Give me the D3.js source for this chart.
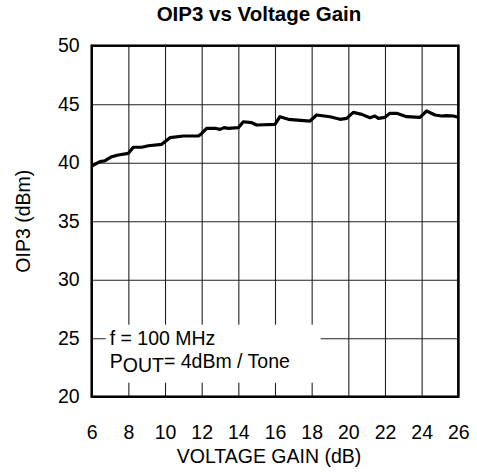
<html>
<head>
    <script src="https://d3js.org/d3.v7.min.js"></script>
    <style>
        body { margin: 0; background: #fff; }
        text { font-family: "Liberation Sans", Arial, sans-serif; }
    </style>
</head>
<body>
    <div id="cont"></div>
    <script>
        // voltage gain (dB) and OIP3 (dBm)
        var gain = [6.0, 6.45, 6.73, 7.09, 7.45, 8.0, 8.27, 8.73, 9.09, 9.82,
            10.27, 11.0, 11.82, 12.0, 12.27, 12.73, 13.0, 13.22, 13.45, 14.0,
            14.27, 14.73, 15.0, 16.0, 16.27, 16.73, 17.91, 18.27, 19.0, 19.55,
            19.91, 20.27, 20.73, 21.18, 21.45, 21.64, 22.0, 22.27, 22.64, 23.18,
            23.91, 24.27, 24.73, 25.09, 25.36, 25.73, 26.0];
        var oip3 = [39.72, 40.09, 40.17, 40.51, 40.66, 40.80, 41.32, 41.32, 41.45, 41.57,
            42.14, 42.28, 42.28, 42.5, 42.94, 42.94, 42.85, 43.0, 42.94, 42.99,
            43.5, 43.42, 43.22, 43.28, 43.93, 43.71, 43.56, 44.08, 43.93, 43.71,
            43.79, 44.3, 44.13, 43.85, 43.99, 43.79, 43.88, 44.22, 44.22, 43.93,
            43.88, 44.42, 44.08, 43.99, 44.02, 43.99, 43.88];
        var xTicks = [6, 8, 10, 12, 14, 16, 18, 20, 22, 24, 26];
        var yTicks = [20, 25, 30, 35, 40, 45, 50];

        var mLeft = 91.7, mTop = 45.7, mRight = 458.3, mBottom = 396.7;
        var w = mRight - mLeft, h = mBottom - mTop;
        var fs = 19.5;

        var svg = d3.select("#cont").append("svg")
            .attr("width", 477)
            .attr("height", 473);

        var x = d3.scaleLinear().domain([6, 26]).range([0, w]);
        var y = d3.scaleLinear().domain([20, 50]).range([h, 0]);

        var g = svg.append("g")
            .attr("transform", "translate(" + mLeft + "," + mTop + ")");

        var xAxis = g.append("g")
            .attr("transform", "translate(0," + h + ")")
            .call(d3.axisBottom(x).tickValues(xTicks).tickSize(-h).tickPadding(28));
        var yAxis = g.append("g")
            .call(d3.axisLeft(y).tickValues(yTicks).tickSize(-w).tickPadding(12));

        [xAxis, yAxis].forEach(function(a) {
            a.select(".domain").remove();
            a.selectAll("line").attr("stroke", "#222").attr("stroke-width", 1.1);
            a.selectAll("text")
                .attr("fill", "#000")
                .style("font-size", fs + "px")
                .style("font-family", "'Liberation Sans', Arial, sans-serif");
        });

        // legend box sits over the grid
        g.append("rect")
            .attr("x", 14).attr("y", 279)
            .attr("width", 215).attr("height", 58)
            .attr("fill", "#fff");

        var l1 = g.append("text").attr("font-size", fs);
        l1.append("tspan").attr("x", 18).attr("y", 299).text("f = 100 MHz");
        var l2 = g.append("text").attr("font-size", fs).attr("x", 0).attr("y", 322);
        l2.append("tspan").attr("x", 18).text("P");
        l2.append("tspan").attr("dy", 4).text("OUT");
        l2.append("tspan").attr("dy", -4).text("= 4dBm / Tone");

        var line = d3.line()
            .x(function(d, i) { return x(gain[i]); })
            .y(function(d) { return y(d); });

        g.append("path")
            .datum(oip3)
            .attr("d", line)
            .attr("fill", "none")
            .attr("stroke", "#000")
            .attr("stroke-width", 3.2)
            .attr("stroke-linejoin", "round");

        g.append("rect")
            .attr("width", w).attr("height", h)
            .attr("fill", "none")
            .attr("stroke", "#000")
            .attr("stroke-width", 2.5);

        svg.append("text")
            .attr("x", 259).attr("y", 21)
            .attr("text-anchor", "middle")
            .attr("font-size", 20.5)
            .attr("font-weight", "bold")
            .text("OIP3 vs Voltage Gain");

        svg.append("text")
            .attr("x", 269).attr("y", 463)
            .attr("text-anchor", "middle")
            .attr("font-size", fs)
            .text("VOLTAGE GAIN (dB)");

        svg.append("text")
            .attr("transform", "translate(30," + (mTop + h / 2) + ") rotate(-90)")
            .attr("text-anchor", "middle")
            .attr("font-size", fs)
            .text("OIP3 (dBm)");
    </script>
</body>
</html>
